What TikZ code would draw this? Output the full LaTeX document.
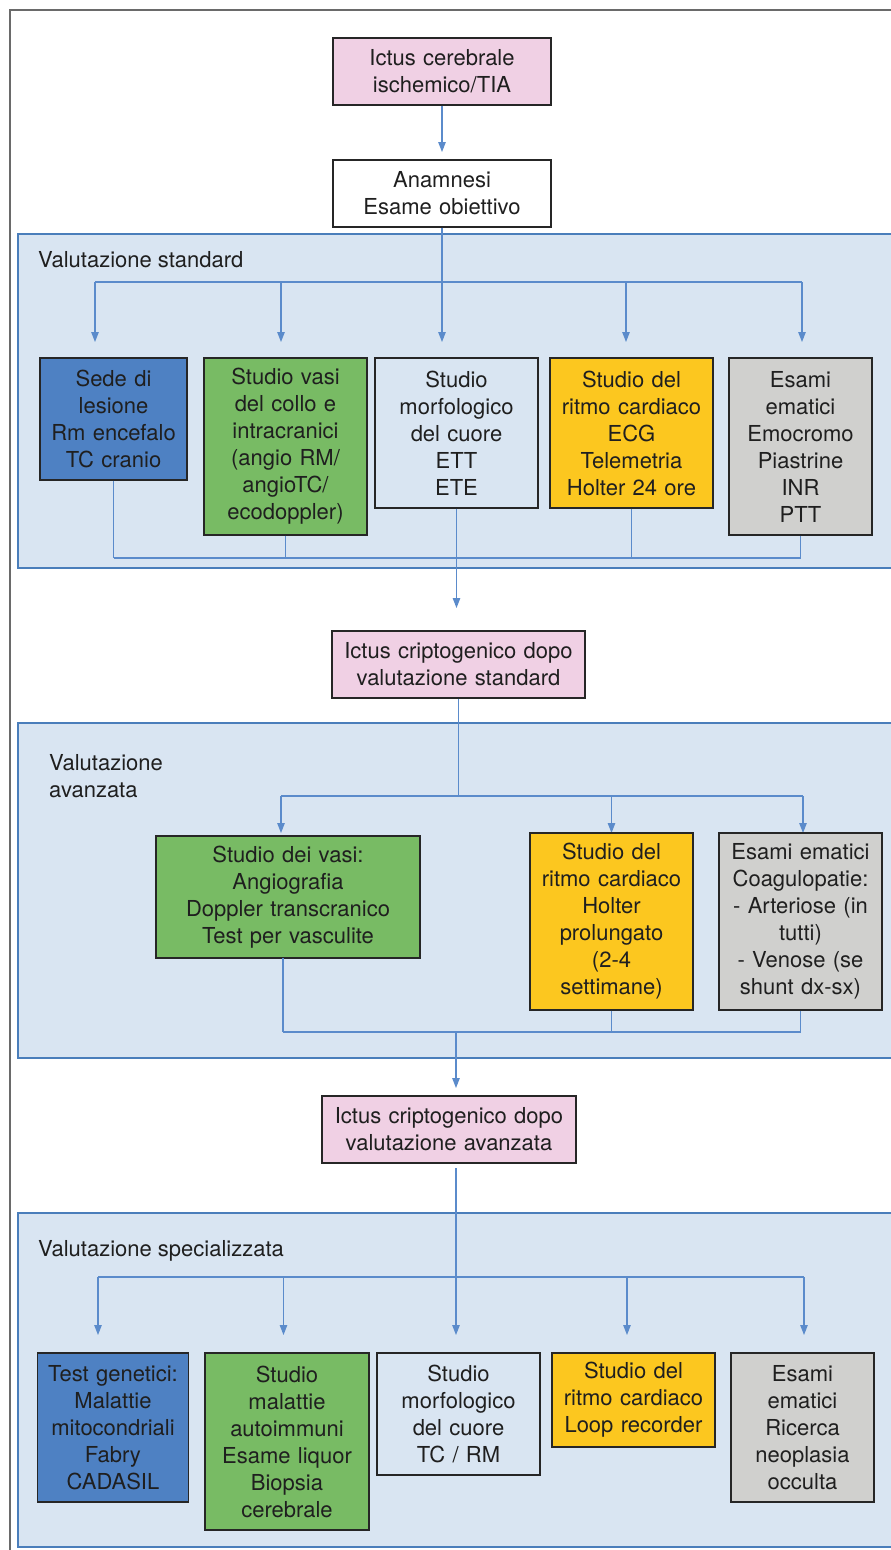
\documentclass[tikz,border=0pt]{standalone}
\usepackage{fontspec}
\setmainfont{TeX Gyre Heros}
\usetikzlibrary{arrows.meta}
\definecolor{panelfill}{HTML}{D9E5F2}
\definecolor{panelborder}{HTML}{4A7EBB}
\definecolor{lineblue}{HTML}{5B8BCB}
\definecolor{pinkfill}{HTML}{F0D0E4}
\definecolor{bluefill}{HTML}{4E81C3}
\definecolor{greenfill}{HTML}{78BB64}
\definecolor{yellowfill}{HTML}{FCC71F}
\definecolor{greyfill}{HTML}{D0D0CE}
\definecolor{framegrey}{HTML}{6A6A6A}
\begin{document}
\begin{tikzpicture}[x=1pt,y=-1pt,
  box/.style={draw=black!85, line width=1.1pt, align=center, inner sep=0pt,
    font=\fontsize{22}{27}\selectfont, text=black!88},
  ln/.style={draw=lineblue, line width=1.1pt},
  arr/.style={ln, -{Triangle[length=10pt,width=7.5pt]}},
  panel/.style={fill=panelfill, draw=panelborder, line width=2pt},
  plabel/.style={anchor=west, inner sep=0pt, align=left,
    font=\fontsize{22}{27}\selectfont, text=black!88}]
\useasboundingbox (0,0) rectangle (891,1550);
\clip (0,0) rectangle (891,1550);
\fill[white] (0,0) rectangle (891,1550);
% outer frame
\draw[framegrey, line width=1.2pt] (10,1600) -- (10,10) -- (950,10);
% panels
\draw[panel] (18,234) rectangle (920,568);
\draw[panel] (18,723) rectangle (920,1058);
\draw[panel] (18,1213) rectangle (920,1547);
\node[plabel] (lab1) at (38,260) {Valutazione standard};
\node[plabel] (lab2) at (49,776) {Valutazione\\avanzata};
\node[plabel] (lab3) at (38,1251) {Valutazione specializzata};

% top nodes
\node[box, fill=pinkfill, minimum width=218, minimum height=67, text width=210] (p1) at (442,71.5) {Ictus cerebrale\\ischemico/TIA};
\node[box, fill=white, minimum width=218, minimum height=67, text width=210] (anam) at (442,193.5) {Anamnesi\\Esame obiettivo};
\coordinate (t0) at (442,152);
\draw[arr] (p1.south) -- (t0);

% row 1
\node[box, fill=bluefill, minimum width=147, minimum height=122, text width=141] (b1) at (113.5,419) {Sede di\\lesione\\Rm encefalo\\TC cranio};
\node[box, fill=greenfill, minimum width=163, minimum height=177, text width=157] (b2) at (285.5,446.5) {Studio vasi\\del collo e\\intracranici\\(angio RM/\\angioTC/\\ecodoppler)};
\node[box, fill=panelfill, minimum width=163, minimum height=150, text width=157] (b3) at (456.5,433) {Studio\\morfologico\\del cuore\\ETT\\ETE};
\node[box, fill=yellowfill, minimum width=163, minimum height=150, text width=157] (b4) at (631.5,433) {Studio del\\ritmo cardiaco\\ECG\\Telemetria\\Holter 24 ore};
\node[box, fill=greyfill, minimum width=143, minimum height=177, text width=137] (b5) at (800.5,446.5) {Esami\\ematici\\Emocromo\\Piastrine\\INR\\PTT};

\coordinate (bus1) at (0,282);
\coordinate (t11) at (95,342);
\coordinate (t12) at (281,342);
\coordinate (t13) at (442,342);
\coordinate (t14) at (626,342);
\coordinate (t15) at (802,342);
\draw[ln] (t11 |- bus1) -- (t15 |- bus1);
\draw[arr] (anam.south) -- (t13);
\foreach \t in {t11,t12,t14,t15} \draw[arr] (\t |- bus1) -- (\t);

\coordinate (bus2) at (0,558);
\draw[ln] (b1.south |- bus2) -- (b5.south |- bus2);
\foreach \b in {b1,b2,b4,b5} \draw[ln] (\b.south) -- (\b.south |- bus2);
\coordinate (t2) at (456.5,608);
\draw[arr] (b3.south) -- (t2);

% second stage
\node[box, fill=pinkfill, minimum width=253, minimum height=67, text width=245] (p3) at (458.5,664.5) {Ictus criptogenico dopo\\valutazione standard};
\coordinate (bus3) at (0,796);
\coordinate (t21) at (281,833);
\coordinate (t22) at (611.5,833);
\coordinate (t23) at (803,833);
\draw[ln] (p3.south) -- (p3.south |- bus3);
\draw[ln] (t21 |- bus3) -- (t23 |- bus3);
\foreach \t in {t21,t22,t23} \draw[arr] (\t |- bus3) -- (\t);

\node[box, fill=greenfill, minimum width=264, minimum height=122, text width=256] (g2) at (288,897) {Studio dei vasi:\\Angiografia\\Doppler transcranico\\Test per vasculite};
\node[box, fill=yellowfill, minimum width=163, minimum height=177, text width=157] (y2) at (611.5,921.5) {Studio del\\ritmo cardiaco\\Holter\\prolungato\\(2-4\\settimane)};
\node[box, fill=greyfill, minimum width=163, minimum height=177, text width=157] (r2) at (800.5,921.5) {Esami ematici\\Coagulopatie:\\- Arteriose (in\\tutti)\\- Venose (se\\shunt dx-sx)};

\coordinate (bus4) at (0,1032);
\coordinate (g2b) at (283,958);
\draw[ln] (g2b) -- (g2b |- bus4);
\draw[ln] (y2.south) -- (y2.south |- bus4);
\draw[ln] (r2.south) -- (r2.south |- bus4);
\draw[ln] (g2b |- bus4) -- (r2.south |- bus4);
\coordinate (m4) at (456,1032);
\coordinate (t3) at (456,1088);
\draw[arr] (m4) -- (t3);

% third stage
\node[box, fill=pinkfill, minimum width=254, minimum height=67, text width=246] (p4) at (449,1129.5) {Ictus criptogenico dopo\\valutazione avanzata};
\coordinate (s4) at (456,1168);
\coordinate (bus5) at (0,1277);
\coordinate (t31) at (98,1335);
\coordinate (t32) at (283.5,1335);
\coordinate (t33) at (456,1335);
\coordinate (t34) at (627,1335);
\coordinate (t35) at (804,1335);
\draw[arr] (s4) -- (t33);
\draw[ln] (t31 |- bus5) -- (t35 |- bus5);
\foreach \t in {t31,t32,t34,t35} \draw[arr] (\t |- bus5) -- (\t);

\node[box, fill=bluefill, minimum width=151, minimum height=149, text width=145] (c1) at (113,1427.5) {Test genetici:\\Malattie\\mitocondriali\\Fabry\\CADASIL};
\node[box, fill=greenfill, minimum width=164, minimum height=177, text width=158] (c2) at (287,1441.5) {Studio\\malattie\\autoimmuni\\Esame liquor\\Biopsia\\cerebrale};
\node[box, fill=panelfill, minimum width=163, minimum height=122, text width=157] (c3) at (458.5,1414) {Studio\\morfologico\\del cuore\\TC / RM};
\node[box, fill=yellowfill, minimum width=163, minimum height=94, text width=157] (c4) at (633.5,1400) {Studio del\\ritmo cardiaco\\Loop recorder};
\node[box, fill=greyfill, minimum width=143, minimum height=149, text width=137] (c5) at (802.5,1427.5) {Esami\\ematici\\Ricerca\\neoplasia\\occulta};
\end{tikzpicture}
\end{document}
